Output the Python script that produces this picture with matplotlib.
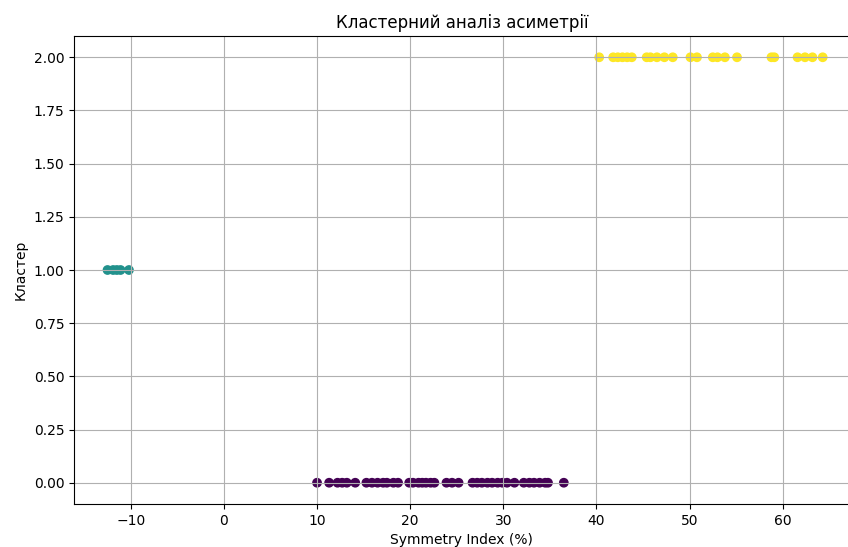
import numpy as np
import matplotlib
matplotlib.use('Agg')
import matplotlib.pyplot as plt

# symmetry index values per cluster
sym_c0 = [10.0, 11.3, 12.2, 12.7, 13.2, 14.1, 15.3, 15.9, 16.5, 17.1, 17.5, 18.2, 18.7,
          19.9, 20.3, 20.9, 21.3, 21.7, 22.2, 22.6, 23.9, 24.5, 25.2, 26.7, 27.2, 27.7,
          28.3, 28.8, 29.4, 29.9, 30.4, 31.2, 32.2, 32.8, 33.3, 33.9, 34.5, 34.8, 36.5]
sym_c1 = [-12.5, -11.9, -11.5, -11.1, -10.2]
sym_c2 = [40.3, 41.8, 42.3, 42.8, 43.3, 43.8, 45.4, 45.8, 46.5, 47.3, 48.2, 50.1, 50.8,
          52.5, 53.0, 53.8, 55.1, 58.8, 59.1, 61.6, 62.4, 63.2, 64.3]

x = np.array(sym_c0 + sym_c1 + sym_c2)
labels = np.array([0]*len(sym_c0) + [1]*len(sym_c1) + [2]*len(sym_c2))

fig = plt.figure(figsize=(8.48, 5.47), dpi=100)
ax = fig.add_axes([74/848, 1-504/547, (848-74)/848 + 0.002, 468/547])
ax.scatter(x, labels, c=labels, cmap='viridis')
ax.set_xlim(-16.1, 67.2)
ax.set_title('Кластерний аналіз асиметрії')
ax.set_xlabel('Symmetry Index (%)')
ax.set_ylabel('Кластер')
ax.grid(True)
fig.savefig('out.png', dpi=100)
